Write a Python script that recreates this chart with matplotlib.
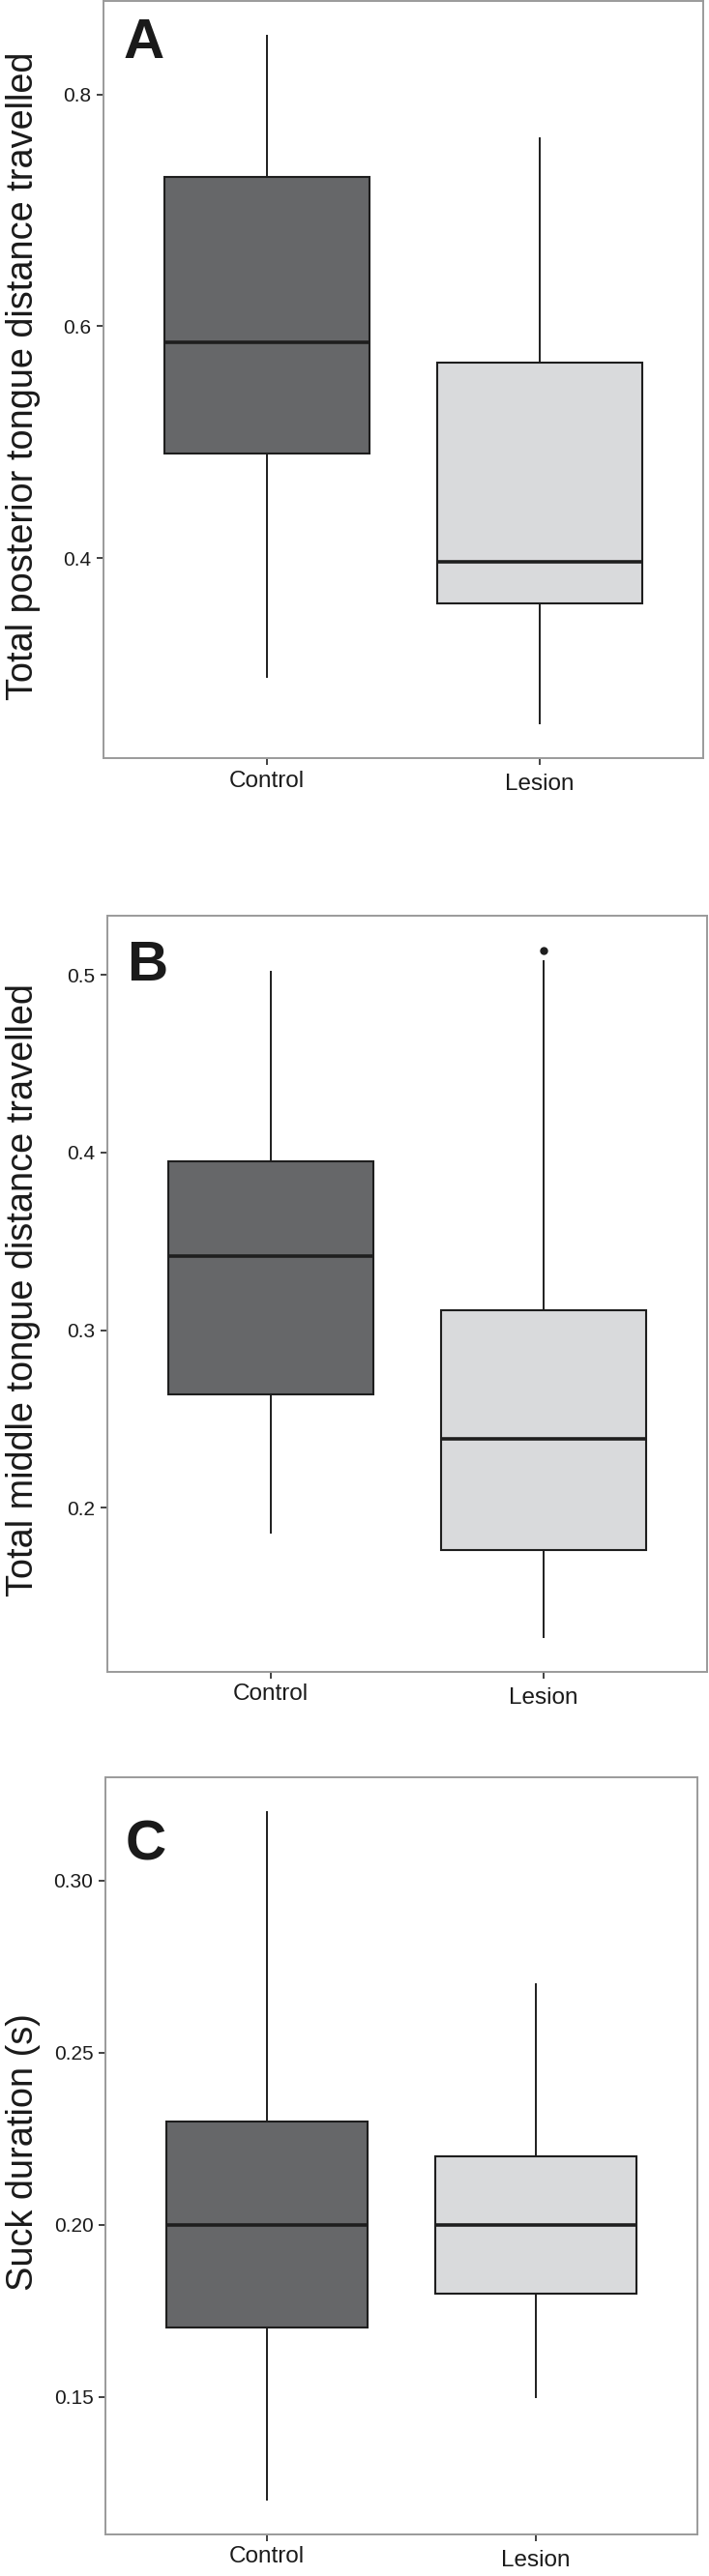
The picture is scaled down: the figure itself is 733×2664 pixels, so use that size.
import matplotlib.pyplot as plt
from matplotlib.transforms import ScaledTranslation

plt.rcParams['font.family'] = ['Liberation Sans', 'DejaVu Sans']

groups = ['Control', 'Lesion']
fills = ['#666769', '#d9dadc']

# A - total posterior tongue distance travelled
post_lo = [0.297, 0.257]
post_q1 = [0.490, 0.361]
post_med = [0.586, 0.397]
post_q3 = [0.729, 0.569]
post_hi = [0.851, 0.762]
post_out = [[], []]
post_ticks = [0.4, 0.6, 0.8]

# B - total middle tongue distance travelled
mid_lo = [0.186, 0.127]
mid_q1 = [0.264, 0.1765]
mid_med = [0.342, 0.239]
mid_q3 = [0.395, 0.311]
mid_hi = [0.502, 0.508]
mid_out = [[], [0.514]]
mid_ticks = [0.2, 0.3, 0.4, 0.5]

# C - suck duration
suck_lo = [0.12, 0.15]
suck_q1 = [0.17, 0.18]
suck_med = [0.20, 0.20]
suck_q3 = [0.23, 0.22]
suck_hi = [0.32, 0.27]
suck_out = [[], []]
suck_ticks = [0.15, 0.20, 0.25, 0.30]

fig = plt.figure(figsize=(7.33, 26.64), dpi=100)

W, H = 733, 2664


def panel(rect_px, lo, q1, med, q3, hi, out, ticks, fmt, ylabel, letter, letter_off):
    left, top, right, bottom = rect_px
    ax = fig.add_axes([left / W, 1 - bottom / H, (right - left) / W, (bottom - top) / H])
    stats = []
    for i in range(len(groups)):
        stats.append(dict(whislo=lo[i], q1=q1[i], med=med[i], q3=q3[i],
                          whishi=hi[i], fliers=out[i]))
    bp = ax.bxp(stats, positions=[1, 2], widths=0.75, patch_artist=True,
                showcaps=False,
                boxprops=dict(edgecolor='#1e1e1e', linewidth=1.5),
                whiskerprops=dict(color='#1e1e1e', linewidth=1.4),
                medianprops=dict(color='#1e1e1e', linewidth=2.6, solid_capstyle='butt'),
                flierprops=dict(marker='o', markersize=5, markerfacecolor='#1e1e1e',
                                markeredgecolor='#1e1e1e'))
    for b, c in zip(bp['boxes'], fills):
        b.set_facecolor(c)

    vals = lo + hi + sum(out, [])
    pad = 0.05 * (max(vals) - min(vals))
    ax.set_ylim(min(vals) - pad, max(vals) + pad)
    ax.set_xlim(0.4, 2.6)

    ax.set_yticks(ticks)
    ax.set_yticklabels([fmt % t for t in ticks])
    ax.set_xticks([1, 2])
    ax.set_xticklabels(groups)
    ax.tick_params(axis='y', labelsize=15, length=5, width=1.3, pad=4,
                   color='#333333', labelcolor='#1a1a1a')
    ax.tick_params(axis='x', labelsize=17.5, length=5, width=1.3, pad=4,
                   color='#333333', labelcolor='#1a1a1a')
    # Lesion label sits a little lower in the original
    lab = ax.get_xticklabels()[1]
    lab.set_transform(lab.get_transform() + ScaledTranslation(0, -3.5 / 100, fig.dpi_scale_trans))

    for s in ax.spines.values():
        s.set_color('#9a9a9a')
        s.set_linewidth(1.4)

    # ylabel is anchored on its right (descender) side
    ax.set_ylabel(ylabel, fontsize=27.3, color='#1a1a1a')
    ax.yaxis.set_label_coords(-(left - 42) / (right - left), 0.505)

    ax.text(letter_off[0] / (right - left), 1 - letter_off[1] / (bottom - top), letter,
            transform=ax.transAxes, fontsize=42, fontweight='bold',
            ha='left', va='top', color='#1a1a1a')
    return ax


panel((107, 1, 727, 784), post_lo, post_q1, post_med, post_q3, post_hi, post_out,
      post_ticks, '%.1f', 'Total posterior tongue distance travelled', 'A', (21, 17))
panel((111, 947, 731, 1729), mid_lo, mid_q1, mid_med, mid_q3, mid_hi, mid_out,
      mid_ticks, '%.1f', 'Total middle tongue distance travelled', 'B', (20, 25))
panel((109, 1838, 721, 2621), suck_lo, suck_q1, suck_med, suck_q3, suck_hi, suck_out,
      suck_ticks, '%.2f', 'Suck duration (s)', 'C', (21, 43))

fig.savefig('out.png', dpi=100)
